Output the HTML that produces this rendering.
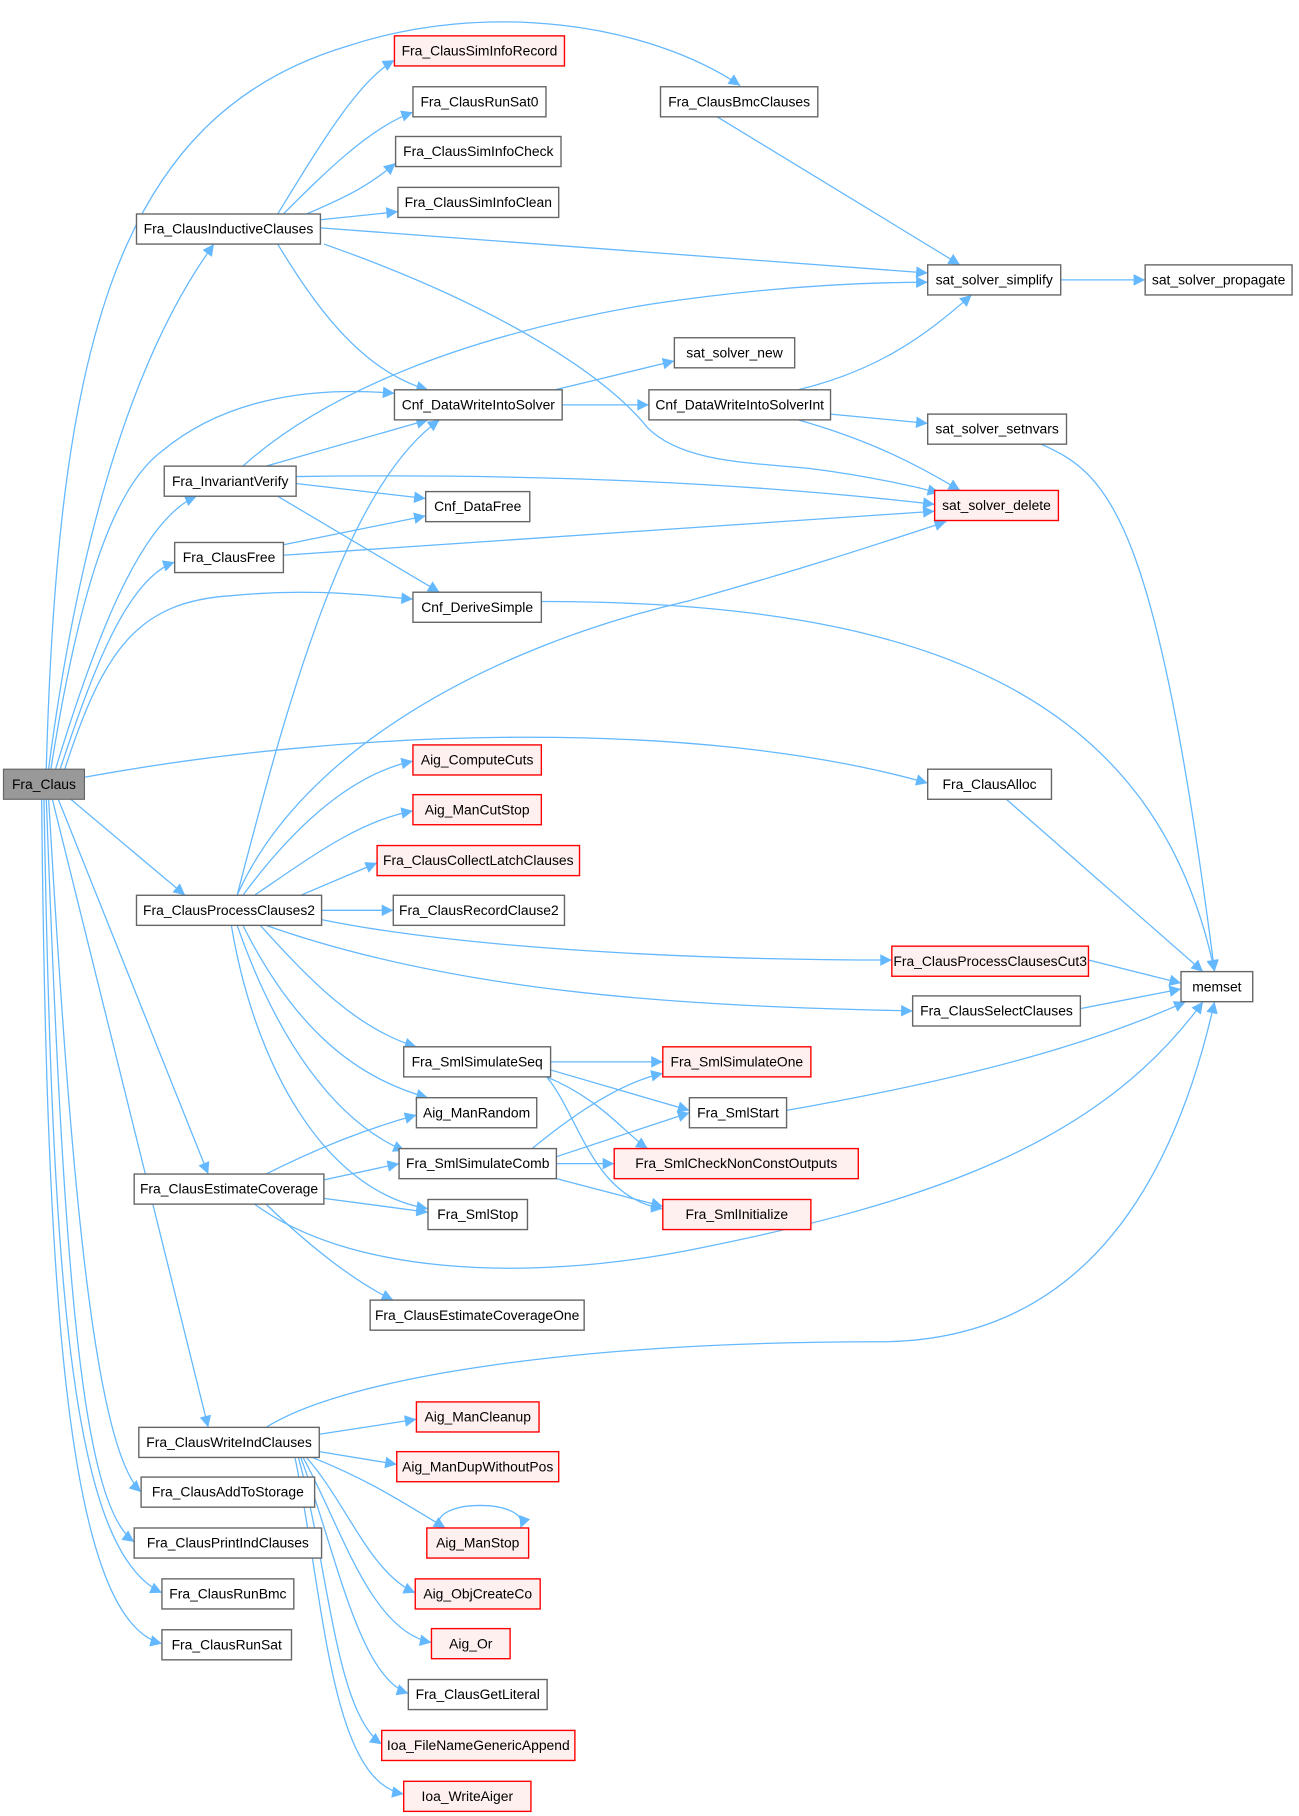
<!DOCTYPE html>
<html><head><meta charset="utf-8"><style>
html,body{margin:0;padding:0;background:#fff}
svg{display:block}
text{font-family:"Liberation Sans",Arial,sans-serif;font-size:12px;fill:#000}
.e{fill:none;stroke:#63b8ff;stroke-width:1.1}
.n{fill:#fff;stroke:#666;stroke-width:1.2}
.r{fill:#fff0f0;stroke:#f00;stroke-width:1.2}
</style></head><body>
<svg width="1299" height="1816" viewBox="0 0 1123 1570" preserveAspectRatio="none" xmlns="http://www.w3.org/2000/svg">
<defs><marker id="a" viewBox="0 0 10 10" refX="10" refY="5" markerWidth="12" markerHeight="10" markerUnits="userSpaceOnUse" orient="auto"><path d="M0,0 L10,5 L0,10 z" fill="#63b8ff"/></marker></defs>
<g class="e" marker-end="url(#a)">
<path d="M40,665 C50,300 100,100 300,40 C420,0 560,20 640,74"/>
<path d="M42,665 C70,450 120,300 185,211"/>
<path d="M44,665 C70,500 100,420 140,390 C200,340 280,335 341,340"/>
<path d="M48,665 C80,560 120,450 170,429"/>
<path d="M52,665 C80,580 110,500 151,486"/>
<path d="M56,665 C90,560 120,520 200,515 C270,508 320,515 357,518"/>
<path d="M73,672 C300,630 600,620 802,677"/>
<path d="M60,690 L160,774"/>
<path d="M50,690 L180,1015"/>
<path d="M45,690 L180,1234"/>
<path d="M42,690 C60,1000 80,1250 122,1290"/>
<path d="M40,690 C55,1100 70,1300 116,1333"/>
<path d="M38,690 C45,1100 60,1340 140,1377"/>
<path d="M36,690 C40,1100 55,1400 140,1421"/>
<path d="M240,185 C280,120 310,70 341,52"/>
<path d="M245,185 C280,150 320,110 357,97"/>
<path d="M265,185 C300,170 320,160 342,141"/>
<path d="M277,190 L344,183"/>
<path d="M277,197 L802,236"/>
<path d="M240,211 C270,260 310,320 370,337"/>
<path d="M280,211 C420,260 520,320 560,370 C590,400 650,400 700,405 C740,410 780,418 812,426"/>
<path d="M620,101 L830,229"/>
<path d="M917,242 L990,242"/>
<path d="M210,403 C280,340 400,290 562,263 C650,250 730,244 802,244"/>
<path d="M230,403 L370,363"/>
<path d="M256,412 C400,410 600,412 808,436"/>
<path d="M256,418 L368,431"/>
<path d="M240,429 L380,512"/>
<path d="M245,471 L368,446"/>
<path d="M245,480 L808,442"/>
<path d="M480,337 L583,312"/>
<path d="M486,350 L561,350"/>
<path d="M690,337 C760,320 800,290 840,255"/>
<path d="M718,358 L802,366"/>
<path d="M690,363 C750,380 790,400 830,424"/>
<path d="M900,384 C960,410 1000,450 1050,840"/>
<path d="M205,774 C260,650 420,560 597,519 C700,490 760,470 818,451"/>
<path d="M468,520 C800,520 1000,600 1050,840"/>
<path d="M870,691 L1040,840"/>
<path d="M205,774 C250,600 300,420 380,363"/>
<path d="M210,774 C250,720 300,670 357,658"/>
<path d="M220,774 C270,740 310,710 357,701"/>
<path d="M260,774 L326,746"/>
<path d="M278,787 L340,787"/>
<path d="M278,795 C400,820 600,830 771,830"/>
<path d="M230,800 C400,860 600,870 789,874"/>
<path d="M225,800 C270,850 310,890 360,905"/>
<path d="M210,800 C250,880 300,930 370,949"/>
<path d="M205,800 C240,900 290,970 350,995"/>
<path d="M200,800 C220,920 280,1030 370,1045"/>
<path d="M941,830 L1021,850"/>
<path d="M934,872 L1021,855"/>
<path d="M680,960 C850,930 950,900 1025,866"/>
<path d="M220,1041 C300,1100 450,1110 600,1080 C800,1040 950,990 1040,866"/>
<path d="M230,1234 C300,1190 500,1160 760,1160 C950,1160 1020,1000 1050,866"/>
<path d="M476,918 L573,918"/>
<path d="M476,925 L596,960"/>
<path d="M470,930 C520,950 540,980 560,993"/>
<path d="M470,928 C500,960 510,1035 573,1045"/>
<path d="M460,993 C500,960 540,935 573,928"/>
<path d="M481,1000 L596,962"/>
<path d="M481,1006 L531,1006"/>
<path d="M481,1019 L573,1043"/>
<path d="M230,1015 C280,990 320,975 360,964"/>
<path d="M280,1020 L345,1006"/>
<path d="M280,1036 L370,1048"/>
<path d="M230,1041 C270,1080 310,1110 340,1124"/>
<path d="M276,1240 L360,1227"/>
<path d="M276,1255 L343,1266"/>
<path d="M270,1260 C320,1280 350,1300 385,1321"/>
<path d="M265,1260 C300,1300 320,1360 359,1377"/>
<path d="M262,1260 C295,1320 320,1410 373,1420"/>
<path d="M260,1260 C290,1340 310,1450 353,1464"/>
<path d="M258,1260 C285,1360 290,1480 330,1508"/>
<path d="M255,1260 C280,1380 285,1540 349,1551"/>
<path d="M380,1321 C370,1295 460,1295 450,1321"/>
</g>
<g>
<rect x="3" y="665" width="70" height="26" fill="#999" stroke="#666"/><text x="38" y="682" text-anchor="middle">Fra_Claus</text>
<rect class="r" x="341" y="31" width="147" height="26"/><text x="414.5" y="48" text-anchor="middle">Fra_ClausSimInfoRecord</text>
<rect class="n" x="357" y="75" width="115" height="26"/><text x="414.5" y="92" text-anchor="middle">Fra_ClausRunSat0</text>
<rect class="n" x="342" y="118" width="143" height="26"/><text x="413.5" y="135" text-anchor="middle">Fra_ClausSimInfoCheck</text>
<rect class="n" x="344" y="162" width="139" height="26"/><text x="413.5" y="179" text-anchor="middle">Fra_ClausSimInfoClean</text>
<rect class="n" x="118" y="185" width="159" height="26"/><text x="197.5" y="202" text-anchor="middle">Fra_ClausInductiveClauses</text>
<rect class="n" x="571" y="75" width="136" height="26"/><text x="639" y="92" text-anchor="middle">Fra_ClausBmcClauses</text>
<rect class="n" x="802" y="229" width="115" height="26"/><text x="859.5" y="246" text-anchor="middle">sat_solver_simplify</text>
<rect class="n" x="990" y="229" width="127" height="26"/><text x="1053.5" y="246" text-anchor="middle">sat_solver_propagate</text>
<rect class="n" x="583" y="292" width="104" height="26"/><text x="635" y="309" text-anchor="middle">sat_solver_new</text>
<rect class="n" x="341" y="337" width="145" height="26"/><text x="413.5" y="354" text-anchor="middle">Cnf_DataWriteIntoSolver</text>
<rect class="n" x="561" y="337" width="157" height="26"/><text x="639.5" y="354" text-anchor="middle">Cnf_DataWriteIntoSolverInt</text>
<rect class="n" x="802" y="358" width="120" height="26"/><text x="862" y="375" text-anchor="middle">sat_solver_setnvars</text>
<rect class="r" x="808" y="424" width="107" height="26"/><text x="861.5" y="441" text-anchor="middle">sat_solver_delete</text>
<rect class="n" x="142" y="403" width="114" height="26"/><text x="199" y="420" text-anchor="middle">Fra_InvariantVerify</text>
<rect class="n" x="368" y="425" width="90" height="26"/><text x="413" y="442" text-anchor="middle">Cnf_DataFree</text>
<rect class="n" x="151" y="469" width="94" height="26"/><text x="198" y="486" text-anchor="middle">Fra_ClausFree</text>
<rect class="n" x="357" y="512" width="111" height="26"/><text x="412.5" y="529" text-anchor="middle">Cnf_DeriveSimple</text>
<rect class="n" x="802" y="665" width="107" height="26"/><text x="855.5" y="682" text-anchor="middle">Fra_ClausAlloc</text>
<rect class="r" x="357" y="644" width="111" height="26"/><text x="412.5" y="661" text-anchor="middle">Aig_ComputeCuts</text>
<rect class="r" x="357" y="687" width="111" height="26"/><text x="412.5" y="704" text-anchor="middle">Aig_ManCutStop</text>
<rect class="r" x="326" y="731" width="175" height="26"/><text x="413.5" y="748" text-anchor="middle">Fra_ClausCollectLatchClauses</text>
<rect class="n" x="340" y="774" width="148" height="26"/><text x="414" y="791" text-anchor="middle">Fra_ClausRecordClause2</text>
<rect class="n" x="118" y="774" width="160" height="26"/><text x="198" y="791" text-anchor="middle">Fra_ClausProcessClauses2</text>
<rect class="r" x="771" y="818" width="170" height="26"/><text x="856" y="835" text-anchor="middle">Fra_ClausProcessClausesCut3</text>
<rect class="n" x="1021" y="840" width="62" height="26"/><text x="1052" y="857" text-anchor="middle">memset</text>
<rect class="n" x="789" y="861" width="145" height="26"/><text x="861.5" y="878" text-anchor="middle">Fra_ClausSelectClauses</text>
<rect class="n" x="349" y="905" width="127" height="26"/><text x="412.5" y="922" text-anchor="middle">Fra_SmlSimulateSeq</text>
<rect class="r" x="573" y="905" width="128" height="26"/><text x="637" y="922" text-anchor="middle">Fra_SmlSimulateOne</text>
<rect class="n" x="360" y="949" width="104" height="26"/><text x="412" y="966" text-anchor="middle">Aig_ManRandom</text>
<rect class="n" x="596" y="949" width="84" height="26"/><text x="638" y="966" text-anchor="middle">Fra_SmlStart</text>
<rect class="n" x="345" y="993" width="136" height="26"/><text x="413" y="1010" text-anchor="middle">Fra_SmlSimulateComb</text>
<rect class="r" x="531" y="993" width="211" height="26"/><text x="636.5" y="1010" text-anchor="middle">Fra_SmlCheckNonConstOutputs</text>
<rect class="n" x="116" y="1015" width="164" height="26"/><text x="198" y="1032" text-anchor="middle">Fra_ClausEstimateCoverage</text>
<rect class="n" x="370" y="1037" width="86" height="26"/><text x="413" y="1054" text-anchor="middle">Fra_SmlStop</text>
<rect class="r" x="573" y="1037" width="128" height="26"/><text x="637" y="1054" text-anchor="middle">Fra_SmlInitialize</text>
<rect class="n" x="320" y="1124" width="185" height="26"/><text x="412.5" y="1141" text-anchor="middle">Fra_ClausEstimateCoverageOne</text>
<rect class="r" x="360" y="1212" width="106" height="26"/><text x="413" y="1229" text-anchor="middle">Aig_ManCleanup</text>
<rect class="n" x="120" y="1234" width="156" height="26"/><text x="198" y="1251" text-anchor="middle">Fra_ClausWriteIndClauses</text>
<rect class="r" x="343" y="1255" width="140" height="26"/><text x="413" y="1272" text-anchor="middle">Aig_ManDupWithoutPos</text>
<rect class="n" x="122" y="1277" width="150" height="26"/><text x="197" y="1294" text-anchor="middle">Fra_ClausAddToStorage</text>
<rect class="r" x="369" y="1321" width="88" height="26"/><text x="413" y="1338" text-anchor="middle">Aig_ManStop</text>
<rect class="n" x="116" y="1321" width="162" height="26"/><text x="197" y="1338" text-anchor="middle">Fra_ClausPrintIndClauses</text>
<rect class="r" x="359" y="1365" width="108" height="26"/><text x="413" y="1382" text-anchor="middle">Aig_ObjCreateCo</text>
<rect class="n" x="140" y="1365" width="114" height="26"/><text x="197" y="1382" text-anchor="middle">Fra_ClausRunBmc</text>
<rect class="n" x="140" y="1409" width="112" height="26"/><text x="196" y="1426" text-anchor="middle">Fra_ClausRunSat</text>
<rect class="r" x="373" y="1408" width="68" height="26"/><text x="407" y="1425" text-anchor="middle">Aig_Or</text>
<rect class="n" x="353" y="1452" width="120" height="26"/><text x="413" y="1469" text-anchor="middle">Fra_ClausGetLiteral</text>
<rect class="r" x="330" y="1496" width="167" height="26"/><text x="413.5" y="1513" text-anchor="middle">Ioa_FileNameGenericAppend</text>
<rect class="r" x="349" y="1540" width="110" height="26"/><text x="404" y="1557" text-anchor="middle">Ioa_WriteAiger</text>
</g>
</svg>
</body></html>
